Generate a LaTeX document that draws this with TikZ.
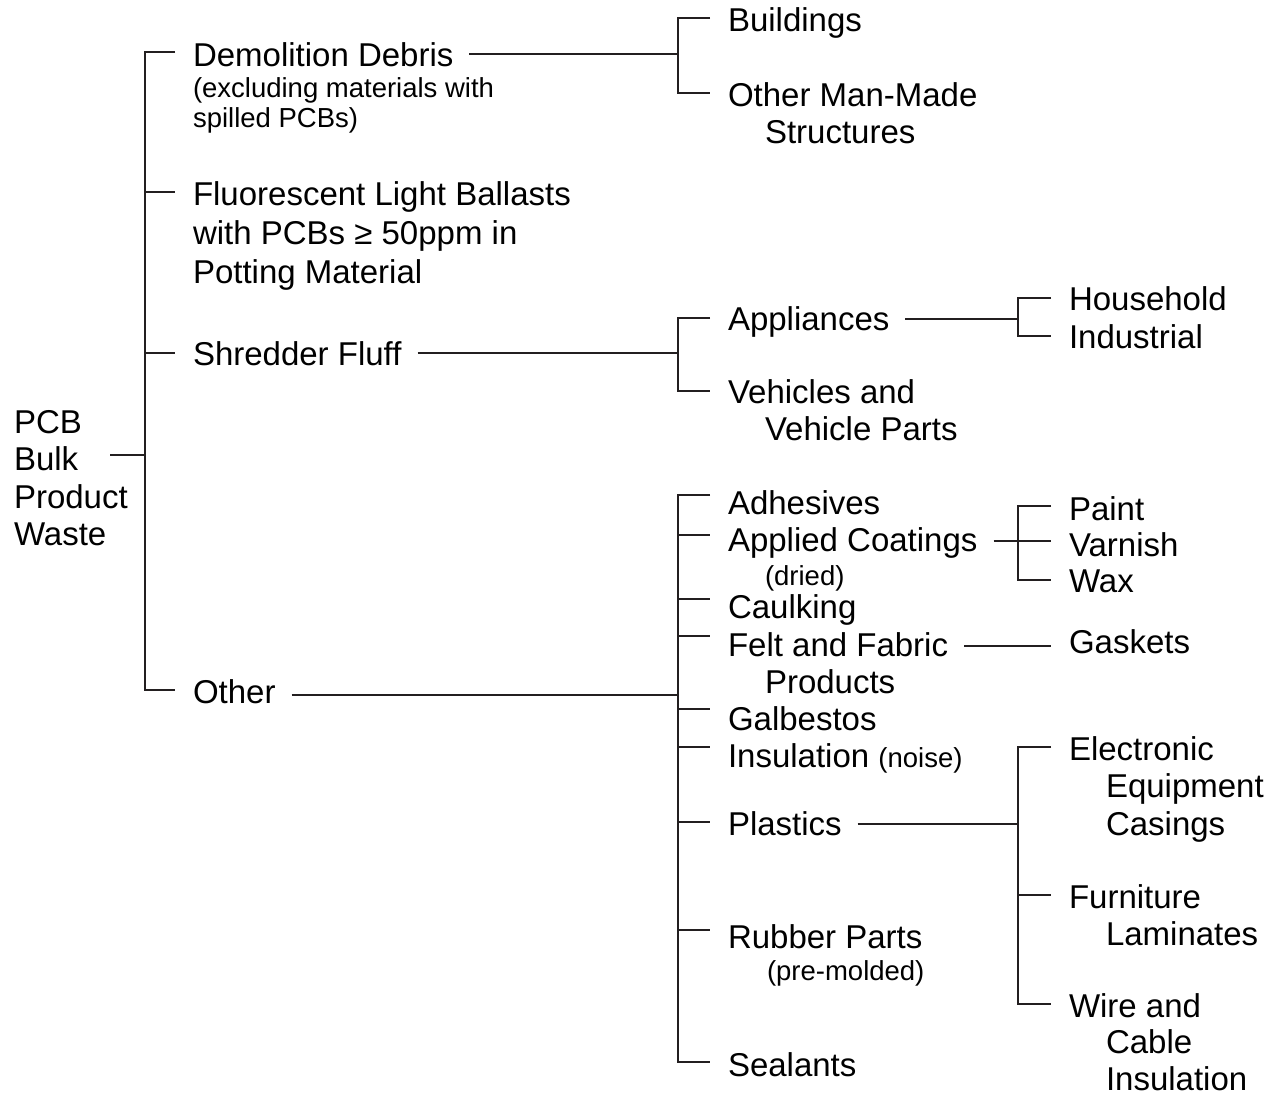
\documentclass[tikz,border=0pt]{standalone}
\usepackage{fontspec}
\setmainfont{Liberation Sans}
\usetikzlibrary{calc}
\definecolor{ink}{HTML}{231F20}
\newcommand\bigtxt{\fontsize{33}{37.5}\selectfont}
\newcommand\notetxt{\fontsize{27.5}{30}\selectfont}
% stacked lines whose baseline is the first line
\newcommand\rows[1]{\vtop{\halign{##\hfil\cr#1\crcr}}}

\begin{document}
\begin{tikzpicture}[x=1pt,y=-1pt,
  lbl/.style={anchor=base west, inner sep=0pt, outer sep=0pt, font=\bigtxt, text=black},
  note/.style={lbl, font=\notetxt},
  wire/.style={draw=ink, line width=2.6pt},
]
\useasboundingbox (0,0) rectangle (1280,1097);

% spine positions of the three bracket columns
\coordinate (sA) at (145,0);
\coordinate (sB) at (678,0);
\coordinate (sD) at (1018,0);

% ---- labels ----
\node[lbl] (root) at (14,433) {\rows{PCB\cr Bulk\cr Product\cr Waste}};

\node[lbl] (dd) at (193,67) {Demolition Debris};
\node[note] (ddn) at (193,98) {\rows{(excluding materials with\cr spilled PCBs)}};
\node[lbl, font=\fontsize{33}{39}\selectfont] (fl) at (193,205) {\rows{Fluorescent Light Ballasts\cr with PCBs ≥ 50ppm in\cr Potting Material}};
\node[lbl] (sf) at (193,365) {Shredder Fluff};
\node[lbl] (ot) at (193,703) {Other};

\node[lbl] (bu) at (728,32) {Buildings};
\node[lbl, font=\fontsize{33}{36}\selectfont] (om) at (728,107) {\rows{Other Man-Made\cr\hspace*{37pt}Structures}};
\node[lbl] (ap) at (728,330) {Appliances};
\node[lbl] (ve) at (728,403) {\rows{Vehicles and\cr\hspace*{37pt}Vehicle Parts}};

\node[lbl] (ad) at (728,514) {Adhesives};
\node[lbl] (ac) at (728,551) {Applied Coatings};
\node[note] (acn) at (765,585) {(dried)};
\node[lbl] (ca) at (728,618) {Caulking};
\node[lbl] (fe) at (728,656) {\rows{Felt and Fabric\cr\hspace*{37pt}Products}};
\node[lbl] (ga) at (728,730) {Galbestos};
\node[lbl] (in) at (728,767) {Insulation {\notetxt(noise)}};
\node[lbl] (pl) at (728,835) {Plastics};
\node[lbl] (ru) at (728,948) {Rubber Parts};
\node[note] (run) at (767,980) {(pre-molded)};
\node[lbl] (se) at (728,1076) {Sealants};

\node[lbl] (ho) at (1069,310) {Household};
\node[lbl] (id) at (1069,348) {Industrial};
\node[lbl] (pa) at (1069,520) {Paint};
\node[lbl] (va) at (1069,556) {Varnish};
\node[lbl] (wx) at (1069,592) {Wax};
\node[lbl] (gk) at (1069,653) {Gaskets};
\node[lbl] (el) at (1069,760) {\rows{Electronic\cr\hspace*{37pt}Equipment\cr\hspace*{37pt}Casings}};
\node[lbl] (fu) at (1069,908) {\rows{Furniture\cr\hspace*{37pt}Laminates}};
\node[lbl, font=\fontsize{33}{36.5}\selectfont] (wi) at (1069,1017) {\rows{Wire and\cr\hspace*{37pt}Cable\cr\hspace*{37pt}Insulation}};

% ---- tick ends in front of each child label (height above its baseline) ----
\foreach \n/\h in {dd/15,fl/13,sf/12,ot/13,bu/14,om/14,ap/12,ve/12,
                   ad/19,ac/16,ca/19,fe/20,ga/21,in/20,pl/13,ru/18,se/14,
                   ho/12,id/12,pa/14,va/0,wx/12,gk/13,el/13,fu/13,wi/13}
  \coordinate (t-\n) at ($(\n.base west)+(-18,-\h)$);
% ---- outgoing line starts after each parent label ----
\foreach \n/\h in {dd/13,sf/12,ot/8,ap/11,ac/10,fe/10,pl/11}
  \coordinate (p-\n) at ($(\n.base east)+(16,-\h)$);
\coordinate (p-root) at ($(root.base west)+(96,22)$);

% ---- root bracket ----
\draw[wire] (p-root) -- (p-root -| sA);
\draw[wire] (t-dd) -- (t-dd -| sA) -- (t-ot -| sA) -- (t-ot);
\foreach \n in {fl,sf} \draw[wire] (t-\n -| sA) -- (t-\n);

% ---- demolition debris ----
\draw[wire] (p-dd) -- (p-dd -| sB);
\draw[wire] (t-bu) -- (t-bu -| sB) -- (t-om -| sB) -- (t-om);

% ---- shredder fluff ----
\draw[wire] (p-sf) -- (p-sf -| sB);
\draw[wire] (t-ap) -- (t-ap -| sB) -- (t-ve -| sB) -- (t-ve);
\draw[wire] (p-ap) -- (p-ap -| sD);
\draw[wire] (t-ho) -- (t-ho -| sD) -- (t-id -| sD) -- (t-id);

% ---- other ----
\draw[wire] (p-ot) -- (p-ot -| sB);
\draw[wire] (t-ad) -- (t-ad -| sB) -- (t-se -| sB) -- (t-se);
\foreach \n in {ac,ca,fe,ga,in,pl,ru} \draw[wire] (t-\n -| sB) -- (t-\n);

% applied coatings: the feed line runs straight on into the varnish tick
\draw[wire] (p-ac) -- (p-ac -| sD);
\draw[wire] (t-pa) -- (t-pa -| sD) -- (t-wx -| sD) -- (t-wx);
\draw[wire] (p-ac -| sD) -- (p-ac -| t-va);

\draw[wire] (p-fe) -- (p-fe -| t-gk);

\draw[wire] (p-pl) -- (p-pl -| sD);
\draw[wire] (t-el) -- (t-el -| sD) -- (t-wi -| sD) -- (t-wi);
\draw[wire] (t-fu -| sD) -- (t-fu);
\end{tikzpicture}
\end{document}
